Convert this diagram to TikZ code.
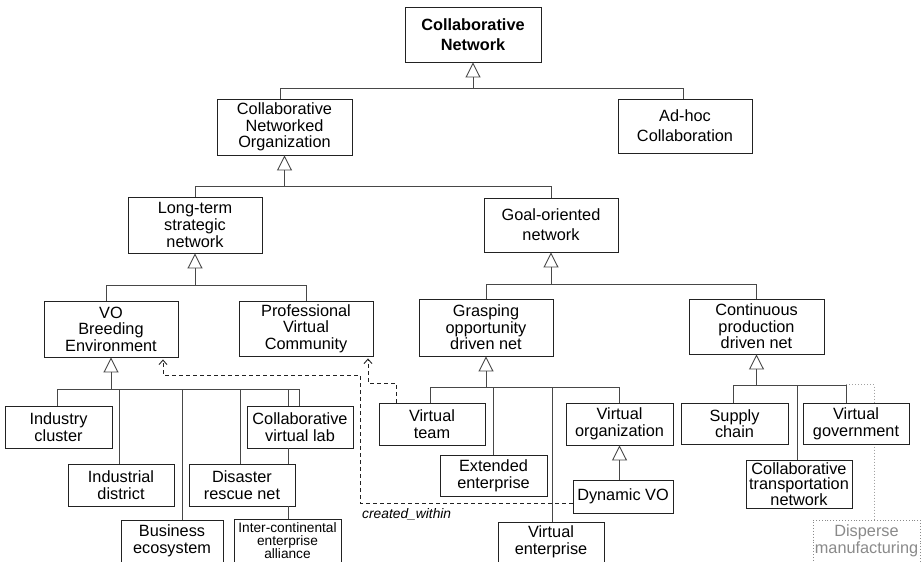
\documentclass[tikz,border=0pt]{standalone}
\usepackage{fontspec}
\setmainfont{Liberation Sans}
\usetikzlibrary{arrows.meta,calc,backgrounds}
\definecolor{boxc}{HTML}{222222}
\definecolor{linec}{HTML}{484848}
\definecolor{faint}{HTML}{8A8A8A}
\begin{document}
\begin{tikzpicture}[x=1pt,y=-1pt,
  box/.style={draw=boxc, line width=0.9pt, fill=white, inner sep=0pt, align=center,
              font=\fontsize{16.3}{16.6}\selectfont},
  roomy/.style={font=\fontsize{16.3}{20}\selectfont},
  sz/.style 2 args={minimum width=#1pt, minimum height=#2pt},
  conn/.style={draw=linec, line width=0.9pt},
  gen/.style={conn, -{Triangle[open, length=15pt, width=15pt]}},
  dep/.style={draw=boxc, line width=0.9pt, dash pattern=on 4pt off 3pt,
              -{Straight Barb[length=4.5pt, width=8pt]}, shorten >=2pt},
  faintline/.style={draw=faint!80, line width=1pt, dotted},
]
\useasboundingbox (0,0) rectangle (921,562);

% ---- class boxes ----
\node[box, sz={136}{55}, font=\fontsize{16.3}{20}\selectfont\bfseries] (cn) at (473,34.5) {Collaborative\\Network};
\node[box, sz={135}{56}] (cno) at (284.5,127) {Collaborative\\Networked\\Organization};
\node[box, roomy, sz={134}{54}] (adhoc) at (685,126) {Ad-hoc\\Collaboration};
\node[box, sz={134}{56}] (lt) at (195,225) {Long-term\\strategic\\network};
\node[box, roomy, sz={134}{54}] (go) at (551,225) {Goal-oriented\\network};
\node[box, sz={134}{56}] (vobe) at (111,329) {VO\\Breeding\\Environment};
\node[box, sz={134}{55}] (pvc) at (306,328.5) {Professional\\Virtual\\Community};
\node[box, sz={134}{57}] (gr) at (486,327.5) {Grasping\\opportunity\\driven net};
\node[box, sz={135}{55}] (cp) at (756.5,326.5) {Continuous\\production\\driven net};
\node[box, sz={107}{42}] (ic) at (58.5,427) {Industry\\cluster};
\node[box, sz={106}{42}] (id) at (121,485) {Industrial\\district};
\node[box, sz={102}{42}] (be) at (172,541) {Business\\ecosystem};
\node[box, sz={106}{42}] (drn) at (242,485) {Disaster\\rescue net};
\node[box, sz={106}{42}] (cvl) at (300,427) {Collaborative\\virtual lab};
\node[box, sz={107}{43}, font=\fontsize{13.7}{13.3}\selectfont] (iea) at (287.5,540.5) {Inter-continental\\enterprise\\alliance};
\node[box, sz={106}{42}] (vt) at (432,424) {Virtual\\team};
\node[box, sz={107}{41}] (ee) at (493.5,475.5) {Extended\\enterprise};
\node[box, sz={106}{40}] (ve) at (551,542) {Virtual\\enterprise};
\node[box, sz={107}{42}] (vo) at (619.5,424) {Virtual\\organization};
\node[box, sz={100}{33}] (dvo) at (623,496.5) {Dynamic VO};
\node[box, sz={107}{41}] (sc) at (734.5,423.5) {Supply\\chain};
\node[box, sz={106}{48}, font=\fontsize{16.3}{14.7}\selectfont] (ctn) at (799,484) {Collaborative\\transportation\\network};
\node[box, sz={106}{41}] (vg) at (856,423.5) {Virtual\\government};
\node[box, sz={107}{42}, draw=faint, dotted, text=faint] (dm) at (866.5,541) {Disperse\\manufacturing};

% ---- generalization trees ----
\coordinate (cnb) at ($(cn.south)+(0,26)$);
\draw[gen] (cnb) -- (cn.south);
\draw[conn] ([xshift=-4pt]cno.north) |- (cnb);
\draw[conn] ([xshift=-2pt]adhoc.north) |- (cnb);

\coordinate (cnob) at ($(cno.south)+(0,31)$);
\draw[gen] (cnob) -- (cno.south);
\draw[conn] (lt.north) |- (cnob);
\draw[conn] (go.north) |- (cnob);

\coordinate (ltb) at ($(lt.south)+(0,32)$);
\draw[gen] (ltb) -- (lt.south);
\draw[conn] ([xshift=-5pt]vobe.north) |- (ltb);
\draw[conn] (pvc.north) |- (ltb);

\coordinate (gob) at ($(go.south)+(0,32)$);
\draw[gen] (gob) -- (go.south);
\draw[conn] (gr.north) |- (gob);
\draw[conn] (cp.north) |- (gob);

\coordinate (vobeb) at ($(vobe.south)+(0,32)$);
\draw[gen] (vobeb) -- (vobe.south);
\draw[conn] ([xshift=-1.5pt]ic.north) |- (vobeb);
\draw[conn] ([xshift=-2pt]id.north) |- (vobeb);
\draw[conn] ([xshift=10pt]be.north) |- (vobeb);
\draw[conn] ([xshift=-2pt]drn.north) |- (vobeb);
\draw[conn] ([xshift=-12pt]cvl.north) |- (vobeb);
\draw[conn] ([xshift=-1pt]cvl.north) |- (vobeb);
\draw[conn] ([xshift=-12pt]cvl.south) -- ([xshift=46pt]drn.north);
\draw[conn] ([xshift=46pt]drn.south) -- ([xshift=0.5pt]iea.north);

\coordinate (grb) at ($(gr.south)+(0,31)$);
\draw[gen] (grb) -- (gr.south);
\draw[conn] ([xshift=-2pt]vt.north) |- (grb);
\draw[conn] ([xshift=-0.5pt]ee.north) |- (grb);
\draw[conn] ([xshift=1pt]ve.north) |- (grb);
\draw[conn] (vo.north) |- (grb);
\draw[gen] (dvo.north -| vo.south) -- (vo.south);

\coordinate (cpb) at ($(cp.south)+(0,31)$);
\draw[gen] (cpb) -- (cp.south);
\draw[conn] ([xshift=-1.5pt]sc.north) |- (cpb);
\draw[conn] ([xshift=-2pt]ctn.north) |- (cpb);
\draw[conn] ([xshift=-10pt]vg.north) |- (cpb);

% the dotted link runs behind the "Virtual government" box
\begin{pgfonlayer}{background}
  \fill[white] (0,0) rectangle (921,562);
  \draw[faintline] ($(vg.north)+(-10,-18)$) -| ([xshift=7.5pt]dm.north);
\end{pgfonlayer}

% ---- created_within dependencies ----
\coordinate (bendA) at (360,375);
\coordinate (bendB) at (368,383);
\draw[dep] ($(dvo.west)+(0,6.5)$) -| (bendA) -| ([xshift=52pt]vobe.south);
\draw[dep] ([xshift=-36pt]vt.north) |- (bendB) -- ([xshift=62pt]pvc.south);
\node[font=\fontsize{13.8}{14}\selectfont\itshape, anchor=west, inner sep=0pt] (cw) at (362,514) {created\_within};
\end{tikzpicture}
\end{document}
